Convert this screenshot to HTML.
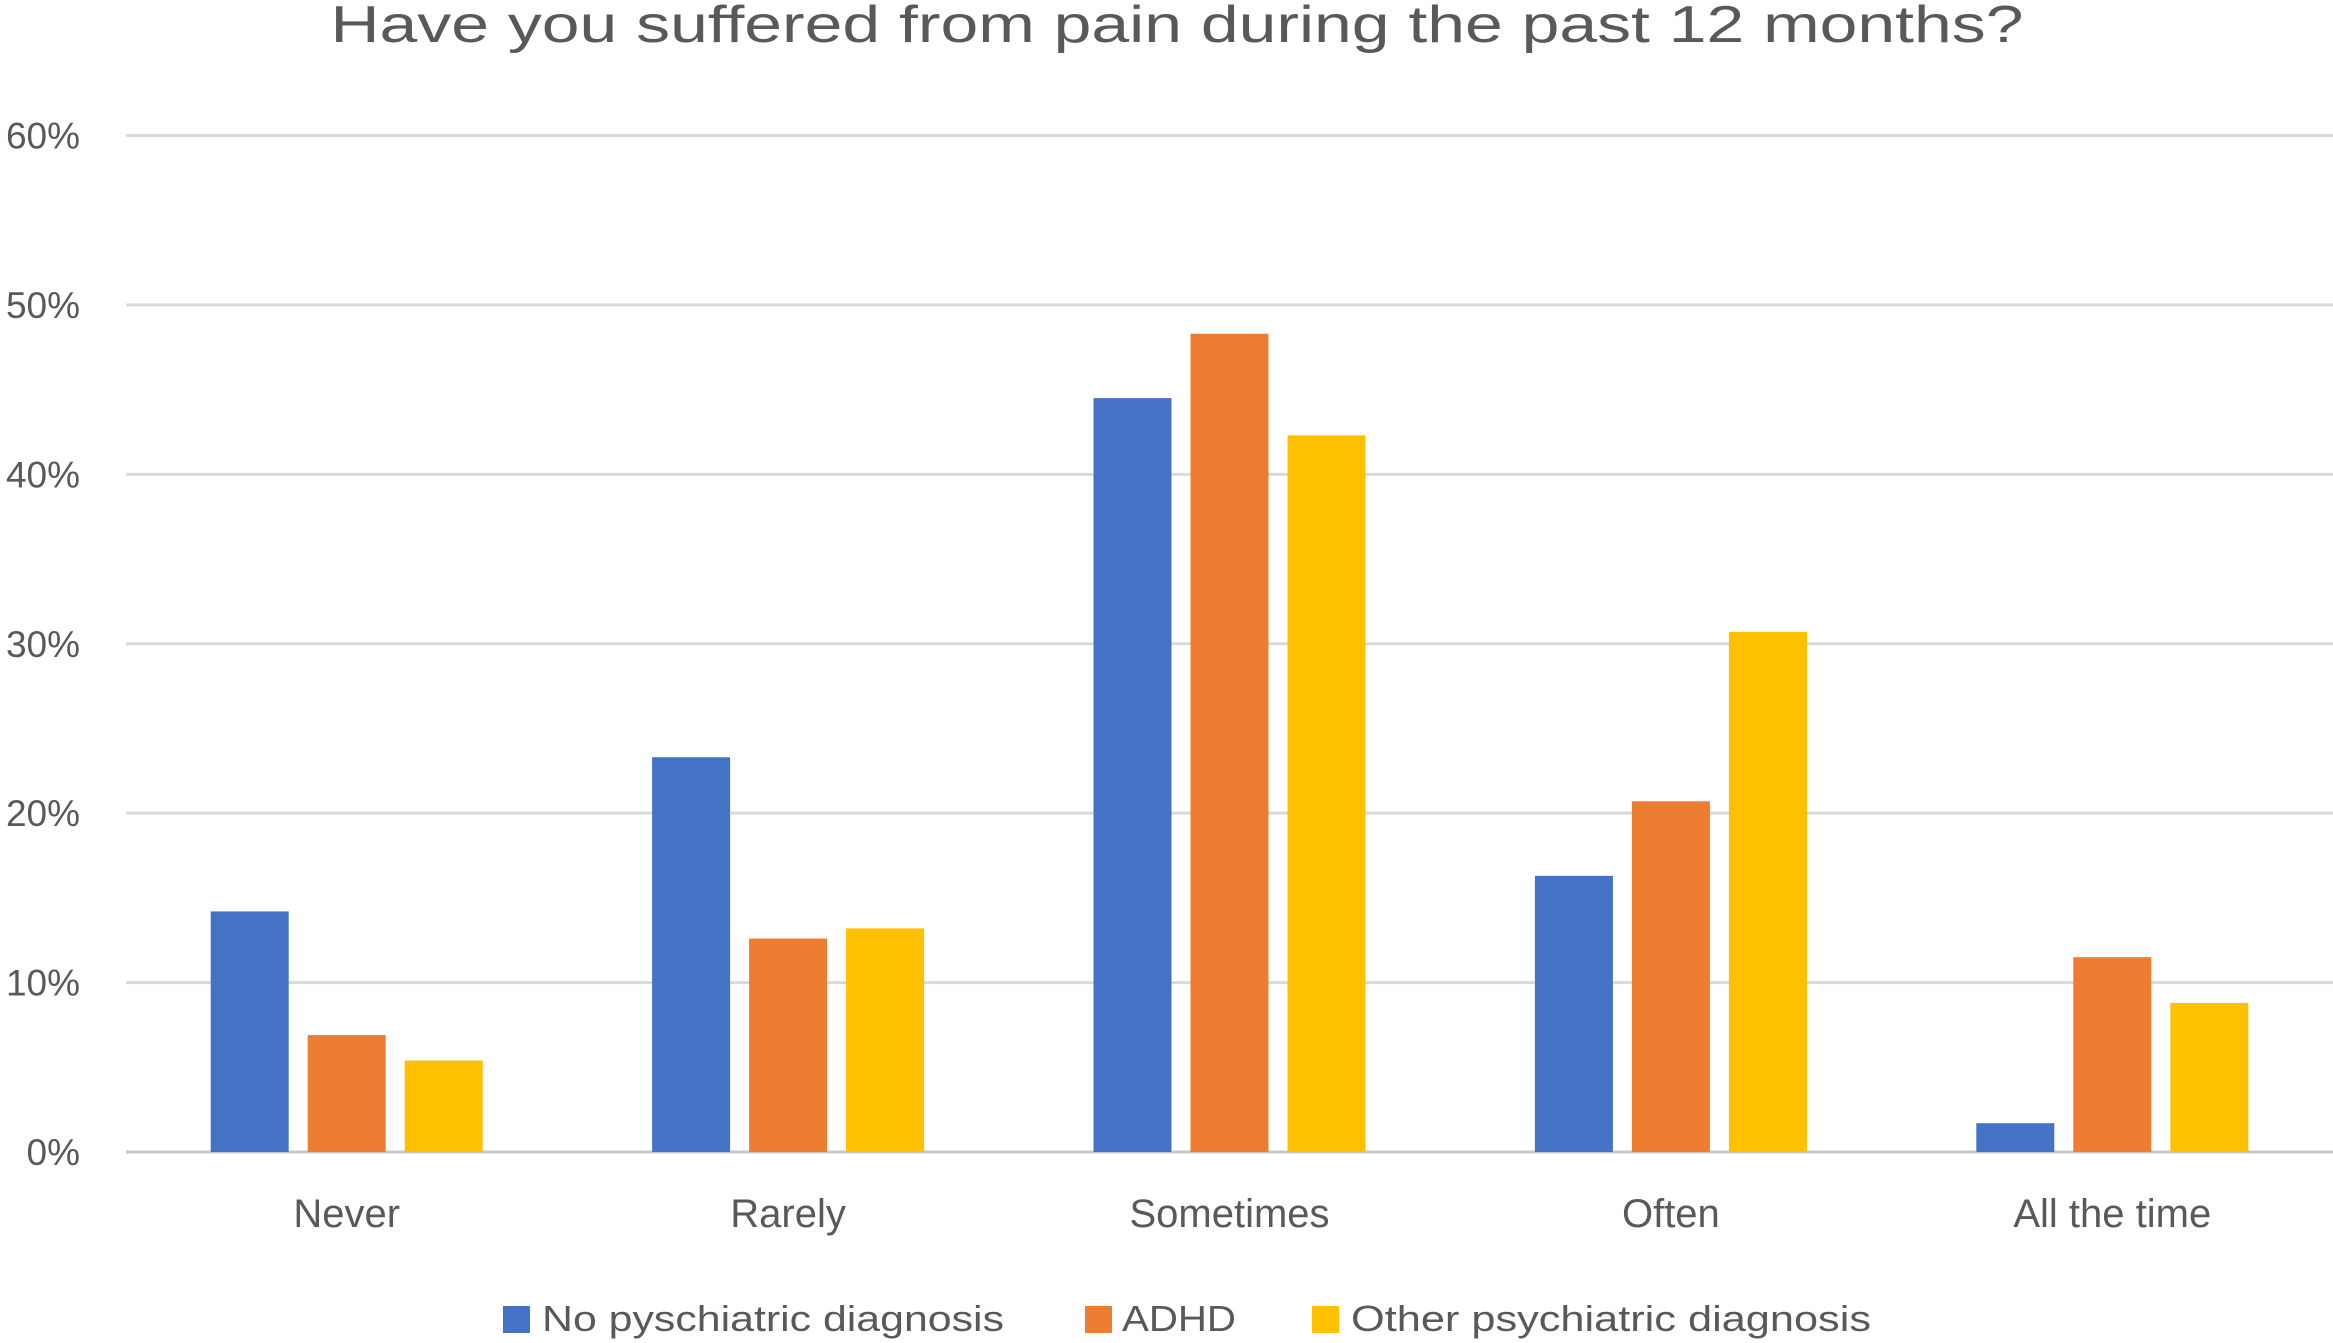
<!DOCTYPE html>
<html><head><meta charset="utf-8"><style>
html,body{margin:0;padding:0;background:#fff;}
svg{display:block;font-family:"Liberation Sans",sans-serif;}
</style></head><body>
<svg id="chart" width="2333" height="1343" viewBox="0 0 2333 1343">
<text x="1177" y="42" font-size="52" fill="#595959" text-anchor="middle" textLength="1693" lengthAdjust="spacingAndGlyphs">Have you suffered from pain during the past 12 months?</text>
<g id="grid"></g><g id="bars"></g><g id="xlabels"></g>
<g>
<rect x="503" y="1306" width="27" height="27" fill="#4472C4"/>
<text x="542" y="1331" font-size="36" fill="#595959" textLength="462" lengthAdjust="spacingAndGlyphs">No pyschiatric diagnosis</text>
<rect x="1085" y="1306" width="27" height="27" fill="#ED7D31"/>
<text x="1122" y="1331" font-size="36" fill="#595959" textLength="114" lengthAdjust="spacingAndGlyphs">ADHD</text>
<rect x="1312" y="1306" width="27" height="27" fill="#FFC000"/>
<text x="1351" y="1331" font-size="36" fill="#595959" textLength="520" lengthAdjust="spacingAndGlyphs">Other psychiatric diagnosis</text>
</g>
</svg>
<script>
const categories = ["Never","Rarely","Sometimes","Often","All the time"];
const noDiagnosis = [14.2, 23.3, 44.5, 16.3, 1.7];
const adhd = [6.9, 12.6, 48.3, 20.7, 11.5];
const otherDiagnosis = [5.4, 13.2, 42.3, 30.7, 8.8];
const yTicks = [0,10,20,30,40,50,60];
const yTickLabels = ["0%","10%","20%","30%","40%","50%","60%"];

const NS="http://www.w3.org/2000/svg";
const y0=1152, y60=135.5, left=126, right=2333;
const yScale=v=>y0-(v/60)*(y0-y60);
const catW=(right-left)/categories.length;
const xCenter=i=>left+catW*(i+0.5);
function mk(tag,attrs,parent){const e=document.createElementNS(NS,tag);for(const k in attrs)e.setAttribute(k,attrs[k]);parent.appendChild(e);return e;}
const grid=document.getElementById('grid');
yTicks.forEach((t,i)=>{
  const l=mk('line',{x1:left,x2:right,y1:yScale(t),y2:yScale(t),stroke:i===0?'#c8c8c8':'#d9d9d9','stroke-width':3},grid);
  
  
  const tx=mk('text',{x:80,y:yScale(t)+13,'font-size':37,fill:'#595959','text-anchor':'end'},grid);
  tx.textContent=yTickLabels[i];
  
  
});
const series=[[noDiagnosis,'#4472C4','no-diagnosis'],[adhd,'#ED7D31','adhd'],[otherDiagnosis,'#FFC000','other']];
const bw=78, step=97;
const bars=document.getElementById('bars'), xl=document.getElementById('xlabels');
categories.forEach((c,i)=>{
  series.forEach((s,j)=>{
    const x=xCenter(i)+(j-1)*step-bw/2;
    const r=mk('rect',{x:x,y:yScale(s[0][i]),width:bw,height:y0-yScale(s[0][i]),fill:s[1]},bars);
    
    
  });
  const t=mk('text',{x:xCenter(i),y:1227,'font-size':40,fill:'#595959','text-anchor':'middle'},xl);
  t.textContent=c;
  
  
});
</script>
</body></html>
